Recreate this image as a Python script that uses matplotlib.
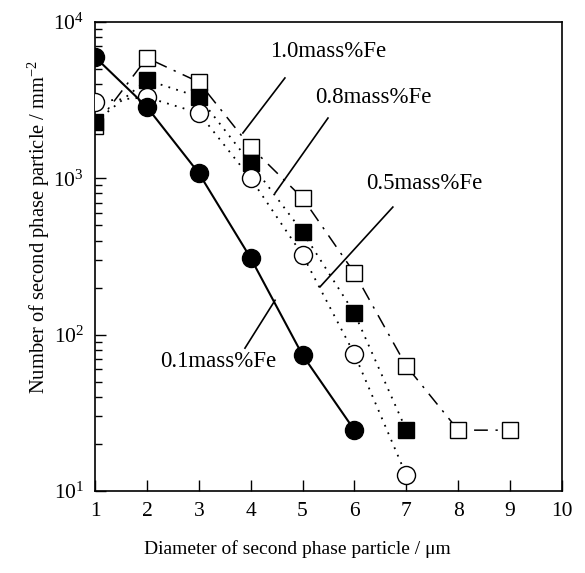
import numpy as np
import matplotlib.pyplot as plt
from matplotlib.ticker import LogLocator, LogFormatterSciNotation, NullFormatter

plt.rcParams['font.family'] = ['Liberation Serif', 'DejaVu Serif']
plt.rcParams['mathtext.fontset'] = 'custom'
plt.rcParams['mathtext.rm'] = 'Liberation Serif'
plt.rcParams['mathtext.it'] = 'Liberation Serif:italic'
plt.rcParams['mathtext.default'] = 'regular'

# donnees
x01 = [1, 2, 3, 4, 5, 6]
y01 = [5970, 2860, 1080, 309, 74, 24.5]

x05 = [1, 2, 3, 4, 5, 6, 7]
y05 = [3100, 3300, 2620, 1000, 323, 75, 12.6]

x08 = [1, 2, 3, 4, 5, 6, 7]
y08 = [2290, 4250, 3320, 1250, 454, 137, 24.5]

x10 = [1, 2, 3, 4, 5, 6, 7, 8, 9]
y10 = [2150, 5890, 4130, 1585, 748, 248, 63, 24.5, 24.5]

labels = ["0.1mass%Fe", "0.5mass%Fe", "0.8mass%Fe", "1.0mass%Fe"]
label_pos = [(2.25, 67), (6.22, 930), (5.24, 3310), (4.37, 6430)]
leader_start = [(3.89, 82), (6.74, 655), (5.49, 2430), (4.66, 4385)]
leader_end = [(4.47, 166), (5.335, 202), (4.47, 805), (3.85, 1950)]

fig = plt.figure(figsize=(5.85, 5.73), dpi=100)
ax = fig.add_axes([0.1624, 0.1431, 0.7983, 0.8185])

ax.plot(x10, y10, color="k", lw=1.1, ls=(0, (9, 5, 1.5, 5)), marker="s", ms=11.5,
        mfc="white", mec="k", mew=1.0, zorder=2)
ax.plot(x08, y08, color="k", lw=1.3, ls=(0, (1, 3.5)), marker="s", ms=11.5,
        mfc="k", mec="k", zorder=3)
ax.plot(x05, y05, color="k", lw=1.3, ls=(0, (1, 3.5)), marker="o", ms=13,
        mfc="white", mec="k", mew=1.0, zorder=4)
ax.plot(x01, y01, color="k", lw=1.5, ls="-", marker="o", ms=13,
        mfc="k", mec="k", zorder=5)

for lab, p, s, e in zip(labels, label_pos, leader_start, leader_end):
    ax.text(p[0], p[1], lab, fontsize=16.5, va="center", ha="left")
    ax.plot([s[0], e[0]], [s[1], e[1]], color="k", lw=1.2)

ax.set_yscale("log")
ax.set_xlim(1, 10)
ax.set_ylim(10, 1e4)
ax.set_xticks(range(1, 11))
ax.yaxis.set_major_locator(LogLocator(base=10))
ax.yaxis.set_minor_locator(LogLocator(base=10, subs=np.arange(2, 10)))
ax.yaxis.set_major_formatter(LogFormatterSciNotation())
ax.yaxis.set_minor_formatter(NullFormatter())
ax.tick_params(which="both", direction="in", top=False, right=False, labelsize=15.5, pad=8)
ax.tick_params(which="major", length=8, width=1)
ax.tick_params(which="minor", length=5, width=1)
for sp in ax.spines.values():
    sp.set_linewidth(1.2)

ax.set_xlabel("Diameter of second phase particle / μm", fontsize=14)
ax.set_ylabel("Number of second phase particle / mm$^{-2}$", fontsize=14.8)
ax.xaxis.set_label_coords(0.433, -0.1045)
ax.yaxis.set_label_coords(-0.092, 0.563)

fig.savefig("out.png", dpi=100)
